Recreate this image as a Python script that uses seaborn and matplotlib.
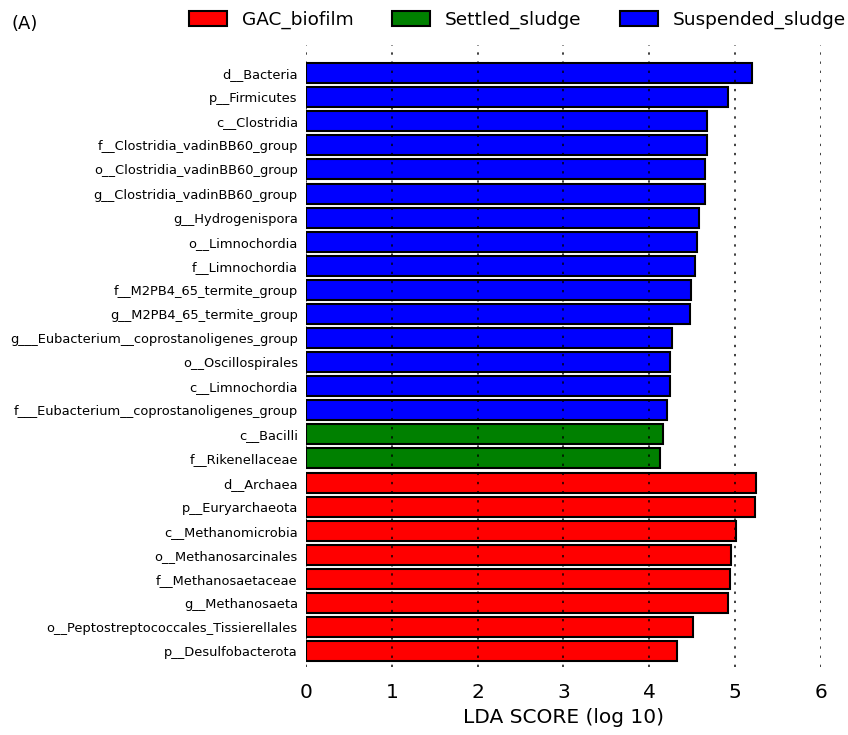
import numpy as np
import pandas as pd
import matplotlib
matplotlib.use("Agg")
import matplotlib.pyplot as plt
import seaborn as sns

# LEfSe result: features (top to bottom), LDA scores and enriched group
features = ["d__Bacteria", "p__Firmicutes", "c__Clostridia",
            "f__Clostridia_vadinBB60_group", "o__Clostridia_vadinBB60_group",
            "g__Clostridia_vadinBB60_group", "g__Hydrogenispora", "o__Limnochordia",
            "f__Limnochordia", "f__M2PB4_65_termite_group", "g__M2PB4_65_termite_group",
            "g___Eubacterium__coprostanoligenes_group", "o__Oscillospirales",
            "c__Limnochordia", "f___Eubacterium__coprostanoligenes_group",
            "c__Bacilli", "f__Rikenellaceae",
            "d__Archaea", "p__Euryarchaeota", "c__Methanomicrobia",
            "o__Methanosarcinales", "f__Methanosaetaceae", "g__Methanosaeta",
            "o__Peptostreptococcales_Tissierellales", "p__Desulfobacterota"]
lda_scores = [5.20, 4.92, 4.67, 4.67, 4.65, 4.65, 4.58, 4.56,
              4.53, 4.49, 4.48, 4.26, 4.24, 4.24, 4.21,
              4.16, 4.13,
              5.24, 5.23, 5.01, 4.95, 4.94, 4.92, 4.51, 4.32]
groups = ["Suspended_sludge"] * 15 + ["Settled_sludge"] * 2 + ["GAC_biofilm"] * 8

group_order = ["GAC_biofilm", "Settled_sludge", "Suspended_sludge"]
group_colors = {"GAC_biofilm": "#ff0000", "Settled_sludge": "#008000",
                "Suspended_sludge": "#0000ff"}

df = pd.DataFrame({"feature": features, "lda": lda_scores, "group": groups})

sns.set_style("white")
plt.rcParams["font.family"] = ["DejaVu Sans"]
plt.rcParams["text.color"] = "black"
plt.rcParams["axes.labelcolor"] = "black"
plt.rcParams["xtick.color"] = "#555555"
plt.rcParams["xtick.labelcolor"] = "black"
plt.rcParams["ytick.labelcolor"] = "black"

fig = plt.figure(figsize=(8.48, 7.35), dpi=100)
ax = fig.add_axes([0.361, 0.0925, 0.607, 0.846])

sns.barplot(data=df, y="feature", x="lda", hue="group", hue_order=group_order,
            palette=group_colors, dodge=False, orient="h", width=0.83,
            saturation=1, edgecolor="black", linewidth=1.5, ax=ax, order=features)

ax.set_xlim(0, 6)
ax.set_ylim(24.66, -1.16)
ax.set_xticks(range(0, 7))
ax.tick_params(axis="x", labelsize=14.5, length=8, direction="out")
ax.tick_params(axis="y", labelsize=9.4, length=0, pad=6)
ax.set_ylabel("")
ax.set_xlabel("LDA SCORE (log 10)", fontsize=14.5)
for s in ax.spines.values():
    s.set_visible(False)

# dotted grid drawn on top of the bars
ax.grid(False)
for x in range(0, 7):
    ax.axvline(x, linestyle=(0, (1.2, 3.5)), color="black", linewidth=1.4,
               alpha=0.75, zorder=5)

handles, labels = ax.get_legend_handles_labels()
ax.get_legend().remove()
fig.legend(handles, labels, loc="upper right", bbox_to_anchor=(1.017, 1.008),
           ncol=3, frameon=False, fontsize=13.3, handlelength=2.05,
           handleheight=0.92, columnspacing=2.1, handletextpad=0.8)

fig.text(0.014, 0.967, "(A)", fontsize=13, va="center")

plt.savefig("out.png", dpi=100)
